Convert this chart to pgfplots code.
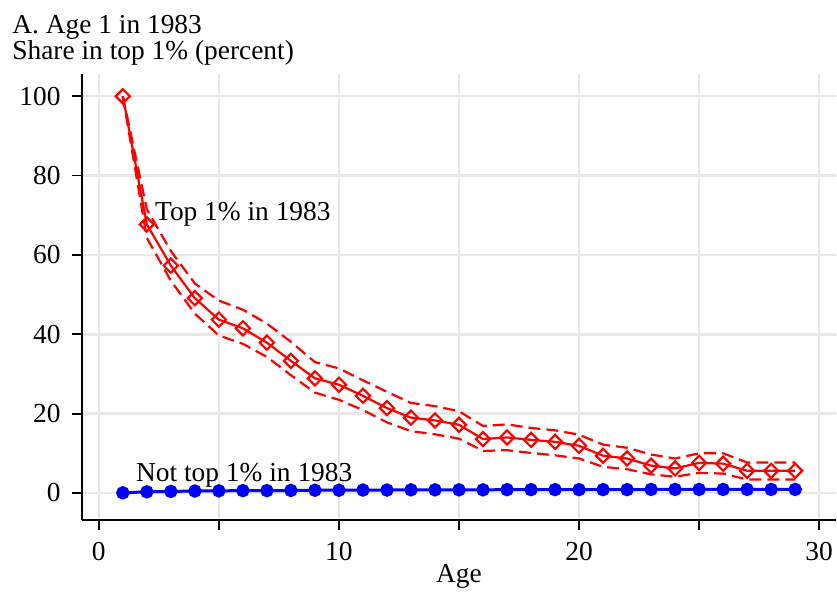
\documentclass[border=0pt]{standalone}
\usepackage{fontspec}
\setmainfont{Liberation Serif}
\usepackage{pgfplots}
\pgfplotsset{compat=1.18}
\usepackage{pgfplotstable}
\pgfplotstableread{
x est up lo
1 100 100 100
2 67.7 71.5 64.3
3 57.3 61.0 53.5
4 49.1 52.8 45.2
5 43.7 48.5 39.7
6 41.5 46.2 37.6
7 37.9 42.7 34.3
8 33.3 38.1 29.7
9 28.9 33.0 25.3
10 27.3 31.4 23.5
11 24.5 28.4 20.9
12 21.4 25.5 17.8
13 19.0 22.7 15.6
14 18.3 21.9 14.8
15 17.2 20.6 13.7
16 13.6 16.9 10.6
17 14.0 17.3 10.8
18 13.4 16.4 10.1
19 12.9 15.8 9.5
20 11.9 14.7 8.7
21 9.4 12.2 6.6
22 8.7 11.4 6.0
23 6.9 9.7 4.7
24 6.2 8.7 4.1
25 7.6 10.0 5.1
26 7.4 10.0 4.9
27 5.6 7.7 3.4
28 5.6 7.7 3.4
29 5.6 7.7 3.4
}\toptab
\pgfplotstableread{
x v
1 0.05
2 0.3
3 0.4
4 0.5
5 0.55
6 0.6
7 0.6
8 0.65
9 0.7
10 0.7
11 0.75
12 0.75
13 0.8
14 0.8
15 0.8
16 0.8
17 0.85
18 0.85
19 0.85
20 0.85
21 0.85
22 0.85
23 0.9
24 0.9
25 0.9
26 0.9
27 0.9
28 0.9
29 0.9
}\nottab
\definecolor{gridc}{RGB}{232,232,232}
\begin{document}
\fontsize{13.7}{15}\selectfont
\begin{tikzpicture}
\begin{axis}[
  scale only axis,
  width=377pt, height=223pt,
  xmin=-0.7, xmax=30.7, ymin=-6.8, ymax=105.6,
  axis lines*=left,
  axis line style={black, line width=0.9pt},
  xtick={0,10,20,30}, minor xtick={5,15,25},
  ytick={0,20,40,60,80,100},
  tick align=outside, tick pos=left,
  major tick length=5pt, minor tick length=5pt,
  every tick/.style={black, line width=0.9pt},
  grid=both,
  major grid style={gridc, line width=1.2pt},
  minor grid style={gridc, line width=1.2pt},
  /pgf/number format/assume math mode=true,
  ticklabel style={font=\fontsize{13.7}{15}\selectfont},
  yticklabel style={xshift=-1pt},
  xticklabel style={yshift=-1.5pt},
  clip=false,
]
\addplot[red, line width=1.1pt, dash pattern=on 6pt off 3pt] table[x=x,y=up] {\toptab};
\addplot[red, line width=1.1pt, dash pattern=on 6pt off 3pt] table[x=x,y=lo] {\toptab};
\addplot[red, line width=1.1pt, mark=square, mark size=2.5pt, mark options={solid, rotate=45, fill=white, line width=1.1pt}] table[x=x,y=est] {\toptab};
\addplot[blue, line width=1.5pt, mark=*, mark size=2.6pt, mark options={solid, fill=blue}] table[x=x,y=v] {\nottab};
\node[anchor=base west, inner sep=0pt] at (axis cs:2.33,68.8) {Top 1\% in 1983};
\node[anchor=base west, inner sep=0pt] at (axis cs:1.54,2.9) {Not top 1\% in 1983};
\node[anchor=base, inner sep=0pt] at (axis description cs:0.5,-0.141) {Age};
\coordinate (sw) at (rel axis cs:0,0);
\end{axis}
\node[anchor=base west, inner sep=0pt] at ([shift={(-35pt,243.5pt)}]sw) {A. Age 1 in 1983};
\node[anchor=base west, inner sep=0pt] at ([shift={(-35pt,230.5pt)}]sw) {Share in top 1\% (percent)};
\pgfresetboundingbox
\path[use as bounding box] ([shift={(-41pt,-35.5pt)}]sw) rectangle ([shift={(377.5pt,260pt)}]sw);
\end{tikzpicture}
\end{document}
